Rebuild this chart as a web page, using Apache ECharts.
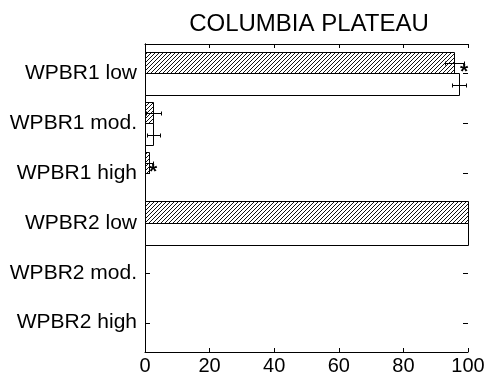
<!DOCTYPE html>
<html>
<head>
<meta charset="utf-8">
<script src="https://cdn.jsdelivr.net/npm/echarts@6/dist/echarts.min.js"></script>
<style>html,body{margin:0;padding:0;background:#fff}#c{width:488px;height:381px}</style>
</head>
<body>
<div id="c"></div>
<script>
// ---- data ----
const categories = ['WPBR1 low', 'WPBR1 mod.', 'WPBR1 high', 'WPBR2 low', 'WPBR2 mod.', 'WPBR2 high'];
const hatchedValues = [95.8, 2.6, 1.2, 100, 0, 0];
const hatchedErrors = [3, 2.2, 1.3, 0, 0, 0];
const hatchedStars = [1, 0, 1, 0, 0, 0];
const plainValues = [97.3, 2.6, 0, 100, 0, 0];
const plainErrors = [2.1, 2.0, 0, 0, 0, 0];
const plainStars = [0, 0, 0, 0, 0, 0];
const xTicks = [0, 20, 40, 60, 80, 100];
const title = 'COLUMBIA PLATEAU';

// ---- hatch pattern ----
function makeHatch() {
  const s = 4;
  const c = document.createElement('canvas');
  c.width = s; c.height = s;
  const g = c.getContext('2d');
  g.fillStyle = '#fff'; g.fillRect(0, 0, s, s);
  g.strokeStyle = '#111'; g.lineWidth = 1;
  g.beginPath();
  g.moveTo(-1, s + 1); g.lineTo(s + 1, -1);
  g.moveTo(-1, 1); g.lineTo(1, -1);
  g.moveTo(s - 1, s + 1); g.lineTo(s + 1, s - 1);
  g.stroke();
  return c;
}
const hatch = { image: makeHatch(), repeat: 'repeat' };

const FONT = 'Liberation Sans, Arial, Helvetica, sans-serif';
const rows = categories.map((_, i) => i + 1);
const X_MIN = 0, X_MAX = 100;

function buildData(vals, errs, stars) {
  return vals.map((v, i) => [v, i + 1, errs[i], stars[i]]);
}

function makeRender(off0, off1, fill, withTicks) {
  return function (params, api) {
    const v = api.value(0), row = api.value(1), e = api.value(2), star = api.value(3);
    const children = [];
    const a = api.coord([0, row + off0]);
    const b = api.coord([v, row + off1]);
    const x0 = Math.round(a[0]) + 0.5, x1 = Math.round(b[0]) + 0.5;
    const y0 = Math.round(Math.min(a[1], b[1])) + 0.5, y1 = Math.round(Math.max(a[1], b[1])) + 0.5;
    if (v > 0) {
      children.push({ type: 'rect', shape: { x: x0, y: y0, width: x1 - x0, height: y1 - y0 },
        style: { fill: fill, stroke: '#000', lineWidth: 1 } });
    }
    const yc = Math.round((y0 + y1) / 2) + 0.5;
    if (e > 0) {
      const l = Math.round(api.coord([Math.max(0, v - e), row])[0]) + 0.5;
      const r = Math.round(api.coord([v + e, row])[0]) + 0.5;
      children.push({ type: 'line', shape: { x1: l, y1: yc, x2: r, y2: yc }, style: { stroke: '#000', lineWidth: 1 } });
      if (v - e > 0) children.push({ type: 'line', shape: { x1: l, y1: yc - 2, x2: l, y2: yc + 2 }, style: { stroke: '#000', lineWidth: 1 } });
      children.push({ type: 'line', shape: { x1: r, y1: yc - 2, x2: r, y2: yc + 2 }, style: { stroke: '#000', lineWidth: 1 } });
    }
    if (star) {
      const sx = api.coord([v + e, row])[0];
      children.push({ type: 'text', style: { text: '*', x: sx, y: yc + 9, fill: '#000',
        font: 'bold 21px ' + FONT, align: 'center', verticalAlign: 'middle' } });
    }
    if (withTicks) {
      // inside ticks on left and right frame at each category
      const pl = api.coord([X_MIN, row]);
      const pr = api.coord([X_MAX, row]);
      const ty = Math.round(pl[1]) + 0.5;
      const lx = Math.round(pl[0]), rx = Math.round(pr[0]);
      children.push({ type: 'line', z2: 100, shape: { x1: lx, y1: ty, x2: lx + 5, y2: ty }, style: { stroke: '#000', lineWidth: 1 } });
      children.push({ type: 'line', z2: 100, shape: { x1: rx - 5, y1: ty, x2: rx, y2: ty }, style: { stroke: '#000', lineWidth: 1 } });
    }
    return { type: 'group', children: children };
  };
}

const axisLineStyle = { color: '#000', width: 1 };

const option = {
  animation: false,
  backgroundColor: '#fff',
  title: { text: title, left: 304, top: 7, textAlign: 'center',
    textStyle: { fontFamily: FONT, fontSize: 24, fontWeight: 'normal', color: '#000' } },
  grid: { left: 145, right: 20, top: 44, bottom: 29, containLabel: false },
  xAxis: [
    { type: 'value', position: 'bottom', min: X_MIN, max: X_MAX, interval: 20,
      axisLine: { show: true, lineStyle: axisLineStyle },
      axisTick: { show: true, inside: true, length: 4, lineStyle: axisLineStyle },
      axisLabel: { color: '#000', fontFamily: FONT, fontSize: 20, margin: 4,
        customValues: xTicks },
      splitLine: { show: false } },
    { type: 'value', position: 'top', min: X_MIN, max: X_MAX, interval: 20,
      axisLine: { show: true, lineStyle: axisLineStyle },
      axisTick: { show: true, inside: true, length: 4, lineStyle: axisLineStyle },
      axisLabel: { show: false }, splitLine: { show: false } }
  ],
  yAxis: [
    { type: 'value', position: 'left', inverse: true, min: 0.41, max: 6.59,
      axisLine: { show: true, lineStyle: axisLineStyle },
      axisTick: { show: false },
      axisLabel: { color: '#000', fontFamily: FONT, fontSize: 21, margin: 8,
        customValues: rows, formatter: v => categories[Math.round(v) - 1] || '' },
      splitLine: { show: false } },
    { type: 'value', position: 'right', inverse: true, min: 0.41, max: 6.59,
      axisLine: { show: true, lineStyle: axisLineStyle },
      axisTick: { show: false },
      axisLabel: { show: false }, splitLine: { show: false } }
  ],
  series: [
    { type: 'custom', xAxisIndex: 0, yAxisIndex: 0, clip: false,
      renderItem: makeRender(-0.43, 0, hatch, false),
      encode: { x: 0, y: 1 },
      data: buildData(hatchedValues, hatchedErrors, hatchedStars) },
    { type: 'custom', xAxisIndex: 0, yAxisIndex: 0, clip: false,
      renderItem: makeRender(0, 0.44, '#fff', true),
      encode: { x: 0, y: 1 },
      data: buildData(plainValues, plainErrors, plainStars) }
  ]
};

const chart = echarts.init(document.getElementById('c'), null, { renderer: 'canvas' });
chart.setOption(option);
</script>
</body>
</html>
